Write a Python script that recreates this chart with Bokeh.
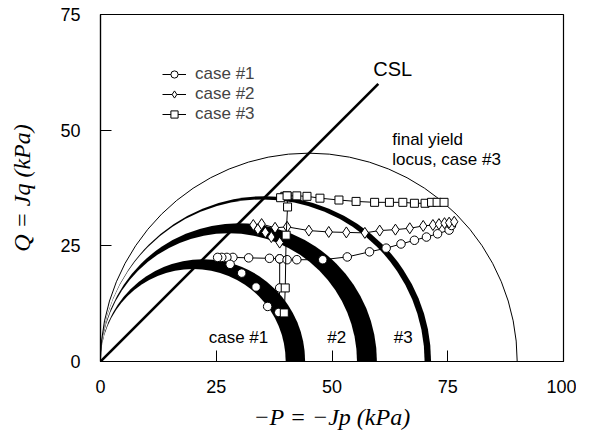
import numpy as np
from bokeh.plotting import figure
from bokeh.models import Label, Legend, LegendItem, FixedTicker
from bokeh.embed import file_html
from bokeh.resources import INLINE

nan = float("nan")

# ---- data ----
x_ticks = [0, 25, 50, 75, 100]
y_ticks = [0, 25, 50, 75]

csl_p = [0, 60]
csl_q = [0, 60]

final_pc = 90.0                      # final yield locus, case #3
band_inner = [40.0, 55.4, 70.0]      # yield locus band, inner pc (cases #1..#3)
band_outer = [44.2, 59.7, 71.4]      # yield locus band, outer pc

case1_p = [38.5, 38.7, 38.7, 36.5, 32.0, 28.6, 27.3, 26.2, 25.3, 28.0, 30.5, 33.6, 36.1, nan,
           38.7, 40.3, 42.4, 48.0, 53.3, 58.1, 61.7, 64.9, 67.8, 70.4, 72.8, 75.3, 75.8]
case1_q = [10.6, 15.9, 22.2, 22.3, 22.4, 22.5, 22.5, 22.5, 22.5, 21.0, 19.1, 16.1, 11.9, nan,
           22.2, 22.0, 22.0, 22.0, 22.6, 23.7, 24.5, 25.4, 26.2, 26.9, 27.6, 28.4, 29.4]

case2_p = [38.7, 36.9, 35.6, 34.0, 33.0, 34.8, 37.7, 40.3, 45.0, 49.3, 53.1, 57.1, 60.3, 63.7,
           66.8, 69.7, 71.8, 73.1, 74.3, 75.3, 76.4]
case2_q = [25.7, 26.9, 27.9, 28.6, 29.5, 29.7, 28.9, 29.1, 28.3, 28.0, 27.9, 27.8, 28.3, 28.5,
           28.8, 29.3, 29.5, 29.7, 29.9, 30.0, 30.2]

case3_p = [39.7, 39.9, 40.1, 40.4, 40.3, 39.8, 38.9, nan,
           40.3, 42.4, 44.6, 47.4, 51.5, 55.2, 59.2, 62.4, 65.3, 67.8, 70.1, 71.5, 72.7, 74.2]
case3_q = [10.5, 15.9, 27.3, 33.4, 35.8, 35.7, 35.4, nan,
           35.8, 35.8, 35.7, 35.3, 34.9, 34.6, 34.4, 34.4, 34.4, 34.2, 34.2, 34.4, 34.4, 34.4]

case_names = ["case #1", "case #2", "case #3"]
band_labels = ["case #1", "#2", "#3"]
band_label_p = [29.8, 51.0, 65.4]

# ---- figure ----
p = figure(frame_width=463, frame_height=347, x_range=(0, 100), y_range=(0, 75),
           min_border_left=100, min_border_right=13, min_border_top=14, min_border_bottom=69,
           output_backend="svg", toolbar_location=None)
p.grid.visible = False
p.background_fill_color = "white"
p.border_fill_color = "white"
p.outline_line_color = "black"
p.outline_line_width = 1.2

for ax, ticks in ((p.xaxis[0], x_ticks), (p.yaxis[0], y_ticks)):
    ax.ticker = FixedTicker(ticks=ticks)
    ax.minor_tick_line_color = None
    ax.major_tick_in = 11
    ax.major_tick_out = 0
    ax.major_tick_line_color = "black"
    ax.axis_line_color = "black"
    ax.axis_line_width = 1.2
    ax.major_label_text_font = "Liberation Sans"
    ax.major_label_text_font_size = "18px"
    ax.major_label_text_color = "black"
    ax.axis_label_text_font = "Liberation Serif"
    ax.axis_label_text_font_style = "italic"
    ax.axis_label_text_font_size = "24px"
    ax.axis_label_text_color = "black"
p.xaxis.major_label_standoff = 18
p.yaxis.major_label_standoff = 20
p.xaxis.axis_label = "\u2212P = \u2212Jp (kPa)"
p.yaxis.axis_label = "Q = Jq (kPa)"
p.xaxis.axis_label_standoff = 8
p.yaxis.axis_label_standoff = 22

# thick black bands (outer half disc black, inner half disc white)
for lo, hi in zip(band_inner[::-1], band_outer[::-1]):
    p.wedge(x=hi / 2, y=0, radius=hi / 2, start_angle=0, end_angle=np.pi,
            fill_color="black", line_color=None)
    p.wedge(x=lo / 2, y=0, radius=lo / 2, start_angle=0, end_angle=np.pi,
            fill_color="white", line_color=None)

# final yield locus (thin)
p.arc(x=final_pc / 2, y=0, radius=final_pc / 2, start_angle=0, end_angle=np.pi,
      line_color="black", line_width=1)

# CSL
p.line(csl_p, csl_q, line_color="black", line_width=2.6)

# stress paths
items = []
for (xs, ys, mk, sz, name) in ((case1_p, case1_q, "circle", 8.5, case_names[0]),
                               (case2_p, case2_q, "diamond", 11, case_names[1]),
                               (case3_p, case3_q, "square", 8, case_names[2])):
    xs = np.array(xs, dtype=float)
    ys = np.array(ys, dtype=float)
    lr = p.line(xs, ys, line_color="black", line_width=1)
    sr = p.scatter(xs, ys, marker=mk, size=sz, fill_color="white", line_color="black",
                   line_width=1)
    items.append(LegendItem(label=name, renderers=[lr, sr]))

legend = Legend(items=items, location=(62, 237), padding=0, margin=0, spacing=0,
                glyph_width=24, glyph_height=18, label_height=18, label_standoff=9,
                label_text_font="Liberation Sans", label_text_font_size="17px",
                label_text_line_height=1.0,
                border_line_color=None, background_fill_alpha=0)
p.add_layout(legend, "center")

# texts in plot
def txt(x, y, s, size="17px", align="left", baseline="middle"):
    p.add_layout(Label(x=x, y=y, text=s, text_font="Liberation Sans",
                       text_font_size=size, text_align=align, text_baseline=baseline,
                       text_color="black"))

txt(63.1, 63.3, "CSL", size="20px", align="center")
txt(63.0, 47.9, "final yield")
txt(63.0, 43.6, "locus, case #3")
for s, x in zip(band_labels, band_label_p):
    txt(x, 5.1, s, align="center")

open("out.html", "w").write(file_html(p, INLINE))
